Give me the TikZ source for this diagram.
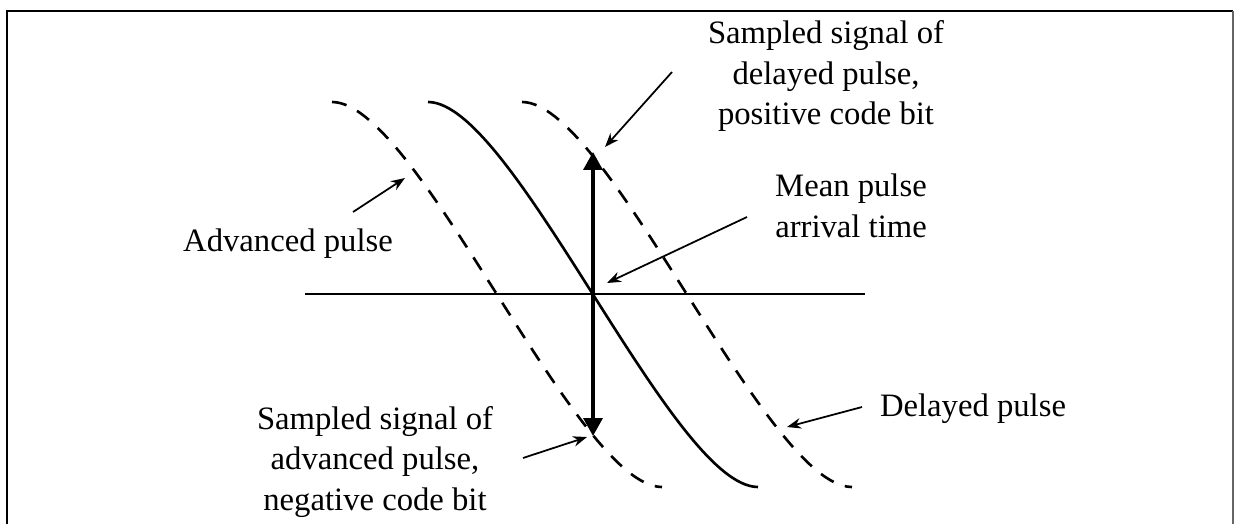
\documentclass[tikz,border=0pt]{standalone}
\usepackage{fontspec}
\setmainfont{Liberation Serif}
\usetikzlibrary{arrows.meta}

\begin{document}
\begin{tikzpicture}[
  x=0.02cm, y=-0.02cm,
  every node/.style={font=\fontsize{18.6}{23.3}\selectfont},
  lbl/.style={align=center, inner sep=0pt},
  pulse/.style={line width=1.5pt},
  shifted/.style={pulse, dash pattern=on 8.5pt off 6.8pt},
  pointer/.style={-{Stealth[length=2.8mm, width=2.1mm]}, line width=1pt},
  sample/.style={{Triangle[length=3.6mm, width=3.8mm]}-{Triangle[length=3.6mm, width=3.8mm]}, line width=2pt}
]

\useasboundingbox (0,0) rectangle (1236,524);

% Frame
\draw[line width=1.4pt] (7,524) -- (7,11) -- (1233,11);
\draw[line width=0.8pt, black!60] (1233,11) -- (1233,524);

% Time axis
\coordinate (axisL) at (305,294);
\coordinate (axisR) at (865,294);
\draw[pulse] (axisL) -- (axisR);

% Advanced, mean and delayed pulses
\draw[shifted] (332,102) .. controls (418,102) and (576,487) .. (662,487);
\draw[pulse] (428,102) .. controls (514,102) and (672,487) .. (758,487);
\draw[shifted] (522,102) .. controls (608,102) and (766,487) .. (852,487);

% Sampled values
\coordinate (hi) at (593,152);
\coordinate (lo) at (593,436);
\draw[sample] (lo) -- (hi);

% Labels
\node[lbl] (sampdel) at (826,76) {Sampled signal of\\delayed pulse,\\positive code bit};
\node[lbl] (mean) at (851,206) {Mean pulse\\arrival time};
\node[lbl] (adv) at (288,244) {Advanced pulse};
\node[lbl] (del) at (973,409) {Delayed pulse};
\node[lbl] (sampadv) at (375,462) {Sampled signal of\\advanced pulse,\\negative code bit};

% Pointers to the curves
\coordinate (sampdelT) at (672,72);
\coordinate (sampdelP) at (605,147);
\coordinate (meanT) at (747,217);
\coordinate (meanP) at (607,283);
\coordinate (advT) at (353,212);
\coordinate (advP) at (405,178);
\coordinate (delT) at (862,407);
\coordinate (delP) at (787,427);
\coordinate (sampadvT) at (523,458);
\coordinate (sampadvP) at (587,437);

\draw[pointer] (sampdelT) -- (sampdelP);
\draw[pointer] (meanT) -- (meanP);
\draw[pointer] (advT) -- (advP);
\draw[pointer] (delT) -- (delP);
\draw[pointer] (sampadvT) -- (sampadvP);

\end{tikzpicture}
\end{document}
